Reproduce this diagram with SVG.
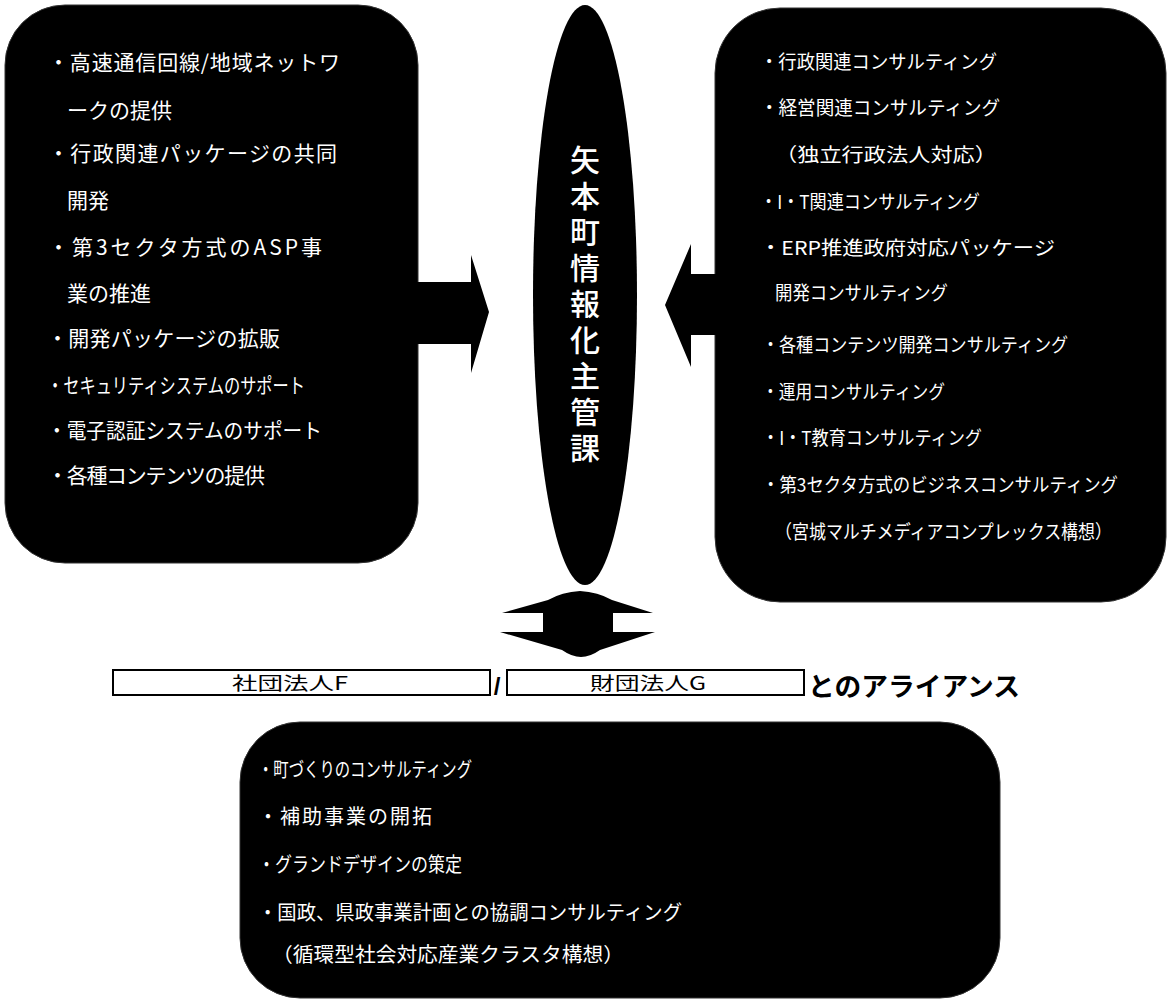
<svg xmlns="http://www.w3.org/2000/svg" width="1168" height="1005" viewBox="0 0 1168 1005">
<style>
.box{fill:#000;stroke:#333;stroke-width:1}
.t{fill:#fff;font-family:"Noto Sans CJK JP","Noto Sans CJK SC",sans-serif;font-size:21px}
.tr{fill:#fff;font-family:"Noto Sans CJK JP","Noto Sans CJK SC",sans-serif;font-size:19px}
.tb{fill:#fff;font-family:"Noto Sans CJK JP","Noto Sans CJK SC",sans-serif;font-size:20px}
.v{fill:#fff;font-family:"Noto Sans CJK JP","Noto Sans CJK SC",sans-serif;font-size:30px;font-weight:500;writing-mode:vertical-rl;letter-spacing:6px}
.lab{fill:#000;font-family:"Noto Sans CJK JP","Noto Sans CJK SC",sans-serif;font-size:18px;text-anchor:middle}
.rect{fill:#fff;stroke:#000;stroke-width:2}
.arrow{fill:#000}
</style>
<rect width="1168" height="1005" fill="#fff"/>

<g id="left-box">
<rect class="box" x="5" y="5" width="413" height="558" rx="60" ry="60"/>
<text class="t" x="48" y="70" textLength="292" lengthAdjust="spacing">・高速通信回線/地域ネットワ</text>
<text class="t" x="67" y="118">ークの提供</text>
<text class="t" x="48" y="161" textLength="289" lengthAdjust="spacing">・行政関連パッケージの共同</text>
<text class="t" x="67" y="208">開発</text>
<text class="t" x="48" y="255" textLength="274" lengthAdjust="spacing">・第3セクタ方式のASP事</text>
<text class="t" x="67" y="301">業の推進</text>
<text class="t" x="47" y="346" textLength="233" lengthAdjust="spacing">・開発パッケージの拡販</text>
<text class="t" x="47" y="393" textLength="258" lengthAdjust="spacingAndGlyphs">・セキュリティシステムのサポート</text>
<text class="t" x="47" y="438" textLength="275" lengthAdjust="spacingAndGlyphs">・電子認証システムのサポート</text>
<text class="t" x="47" y="483" textLength="218" lengthAdjust="spacing">・各種コンテンツの提供</text>
</g>

<g id="center-ellipse">
<ellipse cx="585" cy="295" rx="52" ry="290" fill="#000"/>
<text class="v" x="585" y="145">矢本町情報化主管課</text>
</g>

<g id="right-box">
<rect class="box" x="715" y="8" width="451" height="594" rx="65" ry="65"/>
<text class="tr" x="760" y="69" textLength="237" lengthAdjust="spacingAndGlyphs">・行政関連コンサルティング</text>
<text class="tr" x="760" y="115" textLength="240" lengthAdjust="spacingAndGlyphs">・経営関連コンサルティング</text>
<text class="tr" x="775" y="162" textLength="222" lengthAdjust="spacingAndGlyphs">（独立行政法人対応）</text>
<text class="tr" x="760" y="209" textLength="220" lengthAdjust="spacingAndGlyphs">・I・T関連コンサルティング</text>
<text class="tr" x="760" y="255" textLength="295" lengthAdjust="spacingAndGlyphs">・ERP推進政府対応パッケージ</text>
<text class="tr" x="775" y="300" textLength="173" lengthAdjust="spacingAndGlyphs">開発コンサルティング</text>
<text class="tr" x="762" y="352" textLength="306" lengthAdjust="spacingAndGlyphs">・各種コンテンツ開発コンサルティング</text>
<text class="tr" x="762" y="399" textLength="183" lengthAdjust="spacingAndGlyphs">・運用コンサルティング</text>
<text class="tr" x="762" y="445" textLength="220" lengthAdjust="spacingAndGlyphs">・I・T教育コンサルティング</text>
<text class="tr" x="762" y="492" textLength="356" lengthAdjust="spacingAndGlyphs">・第3セクタ方式のビジネスコンサルティング</text>
<text class="tr" x="775" y="539" textLength="337" lengthAdjust="spacingAndGlyphs">（宮城マルチメディアコンプレックス構想）</text>
</g>

<g id="alliance-row">
<rect class="rect" x="113" y="670" width="377" height="25"/>
<text class="lab" x="290" y="690" textLength="116" lengthAdjust="spacingAndGlyphs">社団法人F</text>
<text x="497" y="695" text-anchor="middle" style="font-family:'Liberation Sans',sans-serif;font-size:24px;font-weight:bold;fill:#000">/</text>
<rect class="rect" x="507" y="670" width="297" height="25"/>
<text class="lab" x="648" y="690" textLength="116" lengthAdjust="spacingAndGlyphs">財団法人G</text>
<text x="808" y="696" style="font-family:'Noto Sans CJK JP','Noto Sans CJK SC',sans-serif;font-size:26px;font-weight:bold;fill:#000" textLength="212" lengthAdjust="spacingAndGlyphs">とのアライアンス</text>
</g>

<g id="bottom-box">
<rect class="box" x="240" y="722" width="760" height="276" rx="60" ry="60"/>
<text class="tb" x="258" y="777" textLength="214" lengthAdjust="spacingAndGlyphs">・町づくりのコンサルティング</text>
<text class="tb" x="258" y="824" textLength="174" lengthAdjust="spacing">・補助事業の開拓</text>
<text class="tb" x="258" y="872" textLength="204" lengthAdjust="spacingAndGlyphs">・グランドデザインの策定</text>
<text class="tb" x="258" y="920" textLength="424" lengthAdjust="spacingAndGlyphs">・国政、県政事業計画との協調コンサルティング</text>
<text class="tb" x="272" y="962" textLength="352" lengthAdjust="spacingAndGlyphs">（循環型社会対応産業クラスタ構想）</text>
</g>

<g id="connectors">
<polygon class="arrow" points="417,282 471,282 471,255 489,312 471,373 471,344 417,344"/>
<polygon class="arrow" points="717,274 691,274 691,244 665,305 691,367 691,335 717,335"/>
<path class="arrow" d="M580,591 Q598,592 612,600 L653,613 L613,613 L613,632 L655,632 L600,650 Q590,657 581,657 Q572,657 562,650 L500,632 L543,632 L543,613 L502,613 L548,600 Q562,592 580,591 Z"/>
</g>
</svg>
